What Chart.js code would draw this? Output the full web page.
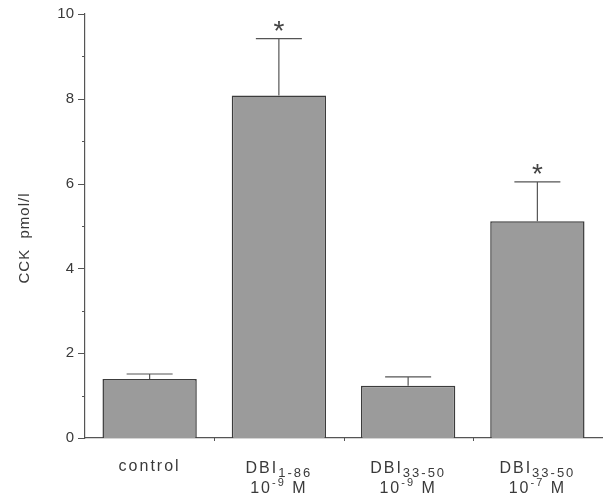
<!DOCTYPE html>
<html><head><meta charset="utf-8">
<script src="https://cdn.jsdelivr.net/npm/chart.js@4.4.0/dist/chart.umd.min.js"></script>
<style>html,body{margin:0;padding:0;background:#fff;}#wrap{width:603px;height:499px;}</style>
</head><body><div id="wrap"><canvas id="c" width="603" height="499"></canvas></div>
<script>
const categories = ['control', 'DBI 1-86 10-9 M', 'DBI 33-50 10-9 M', 'DBI 33-50 10-7 M'];
const labelMain = ['control', 'DBI', 'DBI', 'DBI'];
const labelSub = ['', '1-86', '33-50', '33-50'];
const labelExp = ['', '-9', '-9', '-7'];
const means = [1.39, 8.08, 1.23, 5.11];
const errors = [0.12, 1.34, 0.21, 0.93];
const significant = [false, true, false, true];
const yTicks = [0, 2, 4, 6, 8, 10];

const FONT = '"Liberation Sans", Arial, sans-serif';
const INK = '#3a3a3a';

const decor = {
  id: 'decor',
  afterDatasetsDraw(chart) {
    const ctx = chart.ctx, y = chart.scales.y, meta = chart.getDatasetMeta(0);
    ctx.save();
    ctx.strokeStyle = '#555'; ctx.lineWidth = 1.2;
    meta.data.forEach((bar, i) => {
      const top = y.getPixelForValue(means[i]);
      const et = y.getPixelForValue(means[i] + errors[i]);
      ctx.beginPath();
      ctx.moveTo(bar.x, top); ctx.lineTo(bar.x, et);
      ctx.moveTo(bar.x - 23, et); ctx.lineTo(bar.x + 23, et);
      ctx.stroke();
      if (significant[i]) {
        ctx.fillStyle = '#444';
        ctx.font = '28px ' + FONT;
        ctx.textAlign = 'center'; ctx.textBaseline = 'alphabetic';
        ctx.fillText('*', bar.x, et + 1);
      }
    });
    ctx.restore();
  },
  afterDraw(chart) {
    const ctx = chart.ctx, x = chart.scales.x, y = chart.scales.y;
    const area = chart.chartArea;
    ctx.save();
    ctx.strokeStyle = '#555'; ctx.lineWidth = 1;
    for (let v = 0; v <= 10; v++) {
      const py = Math.round(y.getPixelForValue(v)) + 0.5;
      const len = (v % 2 === 0) ? 7 : 3;
      ctx.beginPath(); ctx.moveTo(area.left - len, py); ctx.lineTo(area.left, py); ctx.stroke();
    }
    ctx.fillStyle = INK;
    ctx.font = '15px ' + FONT;
    ctx.textAlign = 'right'; ctx.textBaseline = 'middle';
    yTicks.forEach(v => ctx.fillText(String(v), area.left - 11, y.getPixelForValue(v)));
    for (let i = 1; i < categories.length; i++) {
      const px = Math.round((x.getPixelForValue(i - 1) + x.getPixelForValue(i)) / 2) + 0.5;
      ctx.beginPath(); ctx.moveTo(px, area.bottom); ctx.lineTo(px, area.bottom + 3); ctx.stroke();
    }
    ctx.letterSpacing = '2px';
    ctx.textBaseline = 'alphabetic';
    categories.forEach((c, i) => {
      const cx = x.getPixelForValue(i);
      if (!labelSub[i]) {
        ctx.font = '16px ' + FONT; ctx.textAlign = 'center';
        ctx.fillText(labelMain[i], cx, 471);
        return;
      }
      ctx.textAlign = 'left';
      ctx.font = '16px ' + FONT;
      const w1 = ctx.measureText(labelMain[i]).width;
      ctx.font = '13px ' + FONT;
      const w2 = ctx.measureText(labelSub[i]).width;
      let sx = cx - (w1 + w2) / 2;
      ctx.font = '16px ' + FONT; ctx.fillText(labelMain[i], sx, 473);
      ctx.font = '13px ' + FONT; ctx.fillText(labelSub[i], sx + w1, 477);
      ctx.font = '16px ' + FONT;
      const a = ctx.measureText('10').width;
      ctx.font = '11px ' + FONT;
      const b = ctx.measureText(labelExp[i]).width;
      ctx.font = '16px ' + FONT;
      const c2 = ctx.measureText(' M').width;
      let lx = cx - (a + b + c2) / 2;
      ctx.fillText('10', lx, 493);
      ctx.font = '11px ' + FONT; ctx.fillText(labelExp[i], lx + a, 486);
      ctx.font = '16px ' + FONT; ctx.fillText(' M', lx + a + b, 493);
    });
    ctx.letterSpacing = '1px';
    ctx.translate(25, 238); ctx.rotate(-Math.PI / 2);
    ctx.textAlign = 'center'; ctx.textBaseline = 'middle';
    ctx.font = '15px ' + FONT;
    ctx.fillText('CCK  pmol/l', 0, 0);
    ctx.restore();
  }
};

new Chart(document.getElementById('c'), {
  type: 'bar',
  data: { labels: categories, datasets: [{ data: means, backgroundColor: '#9b9b9b', borderColor: '#3c3c3c', borderWidth: 1.5, barPercentage: 0.82, categoryPercentage: 0.89 }] },
  options: {
    responsive: false, animation: false,
    layout: { padding: { top: 14, right: 1, left: 0, bottom: 0 } },
    plugins: { legend: { display: false }, tooltip: { enabled: false } },
    scales: {
      x: {
        grid: { display: false },
        border: { display: true, color: '#555', width: 1.2 },
        ticks: { display: false },
        afterFit(s) { s.height = 61; }
      },
      y: {
        min: 0, max: 10,
        grid: { display: false },
        border: { display: true, color: '#555', width: 1.2 },
        ticks: { display: false, stepSize: 1 },
        afterFit(s) { s.width = 85; }
      }
    }
  },
  plugins: [decor]
});
</script></body></html>
